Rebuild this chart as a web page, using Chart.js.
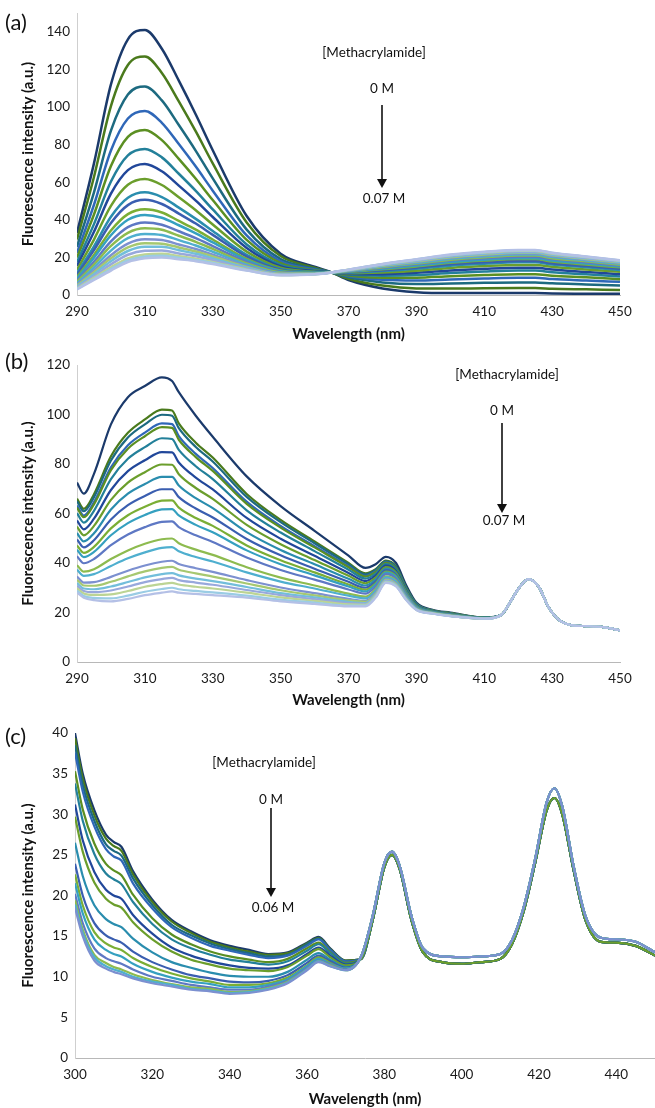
<!DOCTYPE html>
<html>
<head>
<meta charset="utf-8">
<script src="https://cdn.jsdelivr.net/npm/chart.js@4.4.0/dist/chart.umd.min.js"></script>
<style>
html, body { margin: 0; padding: 0; background: #fff; }
#wrap { position: relative; width: 655px; height: 1108px; overflow: hidden; }
canvas { position: absolute; left: 0; }
</style>
</head>
<body>
<div id="wrap">
<canvas id="chartA" width="655" height="345" style="top:0px"></canvas>
<canvas id="chartB" width="655" height="367" style="top:345px"></canvas>
<canvas id="chartC" width="655" height="396" style="top:712px"></canvas>
</div>
<script>
// wavelength grids (nm)
var wavelengthA = [290, 295, 300, 305, 310, 315, 320, 325, 330, 340, 350, 360, 365, 370, 380, 390, 400, 410, 420, 425, 430, 440, 450];
var wavelengthB = [290, 292, 295, 300, 305, 310, 315, 318, 320, 325, 330, 340, 350, 360, 370, 375, 378, 381, 384, 387, 390, 395, 400, 410, 415, 418, 420, 423, 426, 429, 432, 436, 440, 445, 450];
var wavelengthC = [300, 302, 305, 308, 310, 312, 315, 320, 325, 330, 335, 340, 345, 350, 355, 360, 363, 366, 370, 374, 377, 380, 382, 384, 387, 390, 395, 400, 405, 410, 413, 416, 419, 422, 424, 426, 429, 432, 436, 440, 445, 450];

// (a) fluorescence intensity, 0 M first -> 0.07 M last
var intensityA = [
	[33, 70, 112, 136, 141, 131, 114, 96, 77, 42, 22, 15, 12, 8, 3.5, 1.5, 1, 1, 1, 1, 0.8, 0.7, 0.6],
	[29.5, 62.8, 100.5, 122.3, 126.9, 118.1, 103, 87, 70, 38.6, 20.7, 14.5, 12, 8.6, 5, 3.5, 3.4, 3.6, 3.7, 3.7, 3.3, 3, 2.7],
	[25.6, 54.6, 87.4, 106.6, 110.9, 103.5, 90.4, 76.7, 62, 34.8, 19.1, 14, 12, 9.4, 6.7, 5.8, 6.1, 6.5, 6.7, 6.7, 6.2, 5.6, 5],
	[22.4, 48, 76.9, 93.9, 97.9, 91.6, 80.3, 68.3, 55.5, 31.7, 17.9, 13.6, 12, 10, 8.1, 7.7, 8.3, 8.8, 9.2, 9.2, 8.5, 7.7, 7],
	[19.9, 42.8, 68.6, 84.1, 87.8, 82.4, 72.4, 61.8, 50.5, 29.3, 17, 13.2, 12, 10.4, 9.2, 9.2, 10, 10.6, 11.1, 11.1, 10.3, 9.4, 8.4],
	[17.4, 37.7, 60.4, 74.3, 77.7, 73.2, 64.5, 55.4, 45.5, 26.9, 16, 12.9, 12, 10.9, 10.3, 10.6, 11.7, 12.5, 13, 13, 12.1, 11, 9.9],
	[15.4, 33.6, 53.9, 66.4, 69.7, 65.8, 58.2, 50.2, 41.5, 25, 15.2, 12.7, 12, 11.2, 11.1, 11.8, 13, 13.9, 14.5, 14.5, 13.5, 12.3, 11.1],
	[13.4, 29.5, 47.4, 58.6, 61.7, 58.5, 52, 45.1, 37.5, 23.1, 14.5, 12.4, 12, 11.6, 12, 12.9, 14.4, 15.4, 16, 16, 15, 13.6, 12.3],
	[11.7, 25.9, 41.6, 51.7, 54.6, 52.1, 46.5, 40.5, 34, 21.4, 13.8, 12.2, 12, 11.9, 12.7, 13.9, 15.6, 16.6, 17.4, 17.4, 16.2, 14.8, 13.3],
	[10.7, 23.9, 38.3, 47.8, 50.6, 48.4, 43.3, 38, 32, 20.4, 13.4, 12, 12, 12.1, 13.2, 14.5, 16.3, 17.4, 18.1, 18.1, 16.9, 15.4, 13.9],
	[9.5, 21.3, 34.3, 43, 45.6, 43.9, 39.4, 34.8, 29.5, 19.2, 13, 11.9, 12, 12.3, 13.7, 15.2, 17.1, 18.3, 19.1, 19.1, 17.8, 16.2, 14.7],
	[8.7, 19.8, 31.8, 40, 42.6, 41.1, 37.1, 32.8, 28, 18.5, 12.7, 11.8, 12, 12.5, 14, 15.7, 17.6, 18.8, 19.6, 19.6, 18.4, 16.7, 15.1],
	[7.7, 17.7, 28.5, 36.1, 38.6, 37.4, 33.9, 30.2, 26, 17.6, 12.3, 11.6, 12, 12.6, 14.5, 16.3, 18.3, 19.5, 20.4, 20.4, 19.1, 17.4, 15.7],
	[7, 16.2, 26.1, 33.1, 35.5, 34.7, 31.5, 28.3, 24.5, 16.8, 12, 11.5, 12, 12.8, 14.8, 16.7, 18.8, 20.1, 21, 21, 19.6, 17.9, 16.1],
	[6.2, 14.6, 23.6, 30.2, 32.5, 31.9, 29.2, 26.3, 23, 16.1, 11.7, 11.4, 12, 12.9, 15.1, 17.1, 19.3, 20.6, 21.5, 21.5, 20.2, 18.4, 16.6],
	[5.5, 13.1, 21.2, 27.3, 29.6, 29.2, 26.9, 24.5, 21.5, 15.4, 11.5, 11.3, 12, 13, 15.4, 17.5, 19.8, 21.2, 22.1, 22.1, 20.7, 18.9, 17],
	[5, 12.1, 19.5, 25.3, 27.5, 27.3, 25.3, 23.1, 20.5, 14.9, 11.3, 11.3, 12, 13.1, 15.6, 17.8, 20.1, 21.5, 22.5, 22.5, 21.1, 19.2, 17.3],
	[4.5, 11.1, 18, 23.4, 25.6, 25.6, 23.8, 21.9, 19.5, 14.5, 11.1, 11.2, 12, 13.2, 15.8, 18.1, 20.5, 21.9, 22.8, 22.8, 21.4, 19.5, 17.6],
	[4, 10, 16.3, 21.4, 23.5, 23.7, 22.1, 20.6, 18.5, 14, 10.9, 11.1, 12, 13.3, 16.1, 18.4, 20.8, 22.3, 23.2, 23.2, 21.8, 19.8, 17.9],
	[3.5, 9.1, 14.7, 19.5, 21.6, 21.9, 20.6, 19.3, 17.5, 13.5, 10.7, 11.1, 12, 13.4, 16.3, 18.7, 21.2, 22.6, 23.6, 23.6, 22.1, 20.2, 18.2],
	[3.2, 8.5, 13.8, 18.4, 20.5, 20.9, 19.8, 18.6, 17, 13.2, 10.6, 11, 12, 13.5, 16.4, 18.9, 21.3, 22.8, 23.8, 23.8, 22.3, 20.3, 18.4],
	[3, 8, 13, 17.5, 19.5, 20, 19, 18, 16.5, 13, 10.5, 11, 12, 13.5, 16.5, 19, 21.5, 23, 24, 24, 22.5, 20.5, 18.5],
];

// (b) fluorescence intensity, 0 M first -> 0.07 M last
var intensityB = [
	[72.5, 68, 76, 96, 107, 111.5, 115, 113.5, 109, 99.5, 91, 75, 63, 53, 43, 38, 39.5, 42.5, 40, 31, 24, 21, 20, 18, 19, 25, 29.5, 33.5, 30.5, 22, 17, 14.8, 14.5, 14.1, 12.8],
	[66, 61.9, 67.8, 83.1, 92.6, 98, 102, 101.6, 96.4, 88.6, 82.6, 67.9, 57.4, 48.7, 40, 35.8, 37.5, 41, 38.6, 30.1, 23.6, 20.8, 19.8, 17.9, 19, 25, 29.5, 33.5, 30.5, 22, 17, 14.8, 14.5, 14.1, 12.8],
	[65, 60.9, 66.6, 81.4, 90.7, 96, 99.9, 99.5, 94.5, 86.9, 81, 66.7, 56.5, 48, 39.5, 35.4, 37.2, 40.7, 38.4, 30, 23.5, 20.7, 19.7, 17.9, 19, 25, 29.5, 33.5, 30.5, 22, 17, 14.8, 14.5, 14.1, 12.8],
	[63.2, 59.2, 64.6, 78.7, 87.6, 92.7, 96.4, 96.1, 91.3, 84.1, 78.4, 64.8, 55, 46.8, 38.7, 34.8, 36.7, 40.3, 38, 29.7, 23.4, 20.7, 19.7, 17.9, 19, 25, 29.5, 33.5, 30.5, 22, 17, 14.8, 14.5, 14.1, 12.8],
	[62.4, 58.5, 63.7, 77.5, 86.2, 91.2, 94.9, 94.6, 89.8, 82.8, 77.2, 63.9, 54.3, 46.3, 38.3, 34.5, 36.4, 40.1, 37.8, 29.6, 23.3, 20.7, 19.7, 17.9, 19, 25, 29.5, 33.5, 30.5, 22, 17, 14.8, 14.5, 14.1, 12.8],
	[60.1, 56.3, 61.1, 73.9, 82.1, 86.8, 90.4, 90.1, 85.7, 79.1, 73.9, 61.3, 52.3, 44.8, 37.3, 33.7, 35.7, 39.6, 37.3, 29.3, 23.2, 20.6, 19.6, 17.9, 19, 25, 29.5, 33.5, 30.5, 22, 17, 14.8, 14.5, 14.1, 12.8],
	[57.2, 53.6, 57.9, 69.5, 77.1, 81.5, 84.8, 84.7, 80.6, 74.5, 69.7, 58.2, 49.8, 42.9, 36, 32.7, 34.9, 38.9, 36.7, 28.9, 23, 20.5, 19.5, 17.8, 19, 25, 29.5, 33.5, 30.5, 22, 17, 14.8, 14.5, 14.1, 12.8],
	[54.7, 51.2, 55, 65.5, 72.5, 76.7, 79.8, 79.7, 75.9, 70.3, 65.9, 55.4, 47.6, 41.2, 34.8, 31.8, 34.1, 38.3, 36.2, 28.6, 22.8, 20.4, 19.4, 17.8, 19, 25, 29.5, 33.5, 30.5, 22, 17, 14.8, 14.5, 14.1, 12.8],
	[52.1, 48.7, 52, 61.6, 68, 71.9, 74.8, 74.8, 71.3, 66.2, 62.2, 52.5, 45.3, 39.5, 33.6, 30.9, 33.3, 37.7, 35.6, 28.2, 22.6, 20.3, 19.3, 17.8, 19, 25, 29.5, 33.5, 30.5, 22, 17, 14.8, 14.5, 14.1, 12.8],
	[49.5, 46.3, 49.2, 57.6, 63.4, 67.1, 69.8, 69.8, 66.6, 62, 58.4, 49.7, 43.1, 37.7, 32.4, 30, 32.5, 37.1, 35.1, 27.9, 22.4, 20.2, 19.2, 17.7, 19, 25, 29.5, 33.5, 30.5, 22, 17, 14.8, 14.5, 14.1, 12.8],
	[47.1, 44.1, 46.5, 54, 59.3, 62.7, 65.2, 65.3, 62.4, 58.2, 55, 47.1, 41.1, 36.2, 31.3, 29.2, 31.8, 36.5, 34.6, 27.6, 22.3, 20.1, 19.1, 17.7, 19, 25, 29.5, 33.5, 30.5, 22, 17, 14.8, 14.5, 14.1, 12.8],
	[45.4, 42.4, 44.5, 51.2, 56.1, 59.4, 61.7, 61.8, 59.2, 55.4, 52.4, 45.1, 39.5, 35, 30.5, 28.5, 31.3, 36.1, 34.2, 27.3, 22.2, 20.1, 19.1, 17.7, 19, 25, 29.5, 33.5, 30.5, 22, 17, 14.8, 14.5, 14.1, 12.8],
	[42.7, 39.9, 41.6, 47.2, 51.5, 54.5, 56.6, 56.8, 54.5, 51.2, 48.5, 42.2, 37.2, 33.3, 29.3, 27.6, 30.5, 35.5, 33.6, 27, 22, 20, 19, 17.7, 19, 25, 29.5, 33.5, 30.5, 22, 17, 14.8, 14.5, 14.1, 12.8],
	[39.1, 36.5, 37.5, 41.6, 45.1, 47.8, 49.6, 49.9, 48, 45.4, 43.3, 38.3, 34.1, 30.9, 27.6, 26.4, 29.4, 34.6, 32.9, 26.5, 21.8, 19.9, 18.9, 17.6, 19, 25, 29.5, 33.5, 30.5, 22, 17, 14.8, 14.5, 14.1, 12.8],
	[37.3, 34.8, 35.5, 38.8, 41.9, 44.3, 46.1, 46.4, 44.7, 42.4, 40.6, 36.2, 32.5, 29.7, 26.8, 25.7, 28.8, 34.2, 32.5, 26.3, 21.6, 19.8, 18.8, 17.6, 19, 25, 29.5, 33.5, 30.5, 22, 17, 14.8, 14.5, 14.1, 12.8],
	[34.5, 32.1, 32.3, 34.4, 36.9, 39, 40.5, 40.9, 39.6, 37.9, 36.4, 33.1, 30.1, 27.8, 25.5, 24.7, 28, 33.5, 31.9, 25.9, 21.4, 19.7, 18.7, 17.6, 19, 25, 29.5, 33.5, 30.5, 22, 17, 14.8, 14.5, 14.1, 12.8],
	[33.2, 30.9, 30.8, 32.4, 34.6, 36.6, 38, 38.4, 37.3, 35.8, 34.5, 31.7, 29, 26.9, 24.9, 24.3, 27.6, 33.2, 31.6, 25.7, 21.3, 19.7, 18.7, 17.6, 19, 25, 29.5, 33.5, 30.5, 22, 17, 14.8, 14.5, 14.1, 12.8],
	[31.9, 29.7, 29.4, 30.5, 32.3, 34.2, 35.5, 35.9, 35, 33.7, 32.7, 30.3, 27.8, 26.1, 24.3, 23.8, 27.2, 32.9, 31.3, 25.5, 21.3, 19.6, 18.6, 17.5, 19, 25, 29.5, 33.5, 30.5, 22, 17, 14.8, 14.5, 14.1, 12.8],
	[30.8, 28.7, 28.2, 28.9, 30.5, 32.3, 33.5, 34, 33.1, 32.1, 31.2, 29.1, 27, 25.4, 23.8, 23.5, 26.9, 32.7, 31.1, 25.4, 21.2, 19.6, 18.6, 17.5, 19, 25, 29.5, 33.5, 30.5, 22, 17, 14.8, 14.5, 14.1, 12.8],
	[29.8, 27.7, 27.1, 27.3, 28.7, 30.4, 31.5, 32, 31.3, 30.4, 29.7, 28, 26.1, 24.7, 23.3, 23.1, 26.6, 32.4, 30.9, 25.2, 21.1, 19.6, 18.6, 17.5, 19, 25, 29.5, 33.5, 30.5, 22, 17, 14.8, 14.5, 14.1, 12.8],
	[28.8, 26.7, 25.9, 25.7, 26.8, 28.4, 29.5, 30, 29.4, 28.7, 28.1, 26.8, 25.2, 24, 22.8, 22.8, 26.2, 32.2, 30.7, 25.1, 21.1, 19.5, 18.5, 17.5, 19, 25, 29.5, 33.5, 30.5, 22, 17, 14.8, 14.5, 14.1, 12.8],
	[28, 26, 25, 24.5, 25.5, 27, 28, 28.5, 28, 27.5, 27, 26, 24.5, 23.5, 22.5, 22.5, 26, 32, 30.5, 25, 21, 19.5, 18.5, 17.5, 19, 25, 29.5, 33.5, 30.5, 22, 17, 14.8, 14.5, 14.1, 12.8],
];

// (c) fluorescence intensity, 0 M first -> 0.06 M last
var intensityC = [
	[40, 35, 30.5, 27.5, 26.6, 26, 23, 19.5, 17, 15.6, 14.5, 13.8, 13.3, 12.8, 13, 14.2, 14.9, 13.5, 12, 12.2, 17, 23.5, 25, 23.2, 17, 13, 11.8, 11.6, 11.8, 12.2, 14, 18, 24, 30.5, 32, 30, 23, 17, 14.3, 14.2, 13.8, 12.6],
	[39.4, 34.4, 29.9, 27, 26.1, 25.5, 22.6, 19.2, 16.8, 15.4, 14.3, 13.6, 13.1, 12.7, 12.9, 14.1, 14.8, 13.4, 12, 12.2, 17, 23.5, 25, 23.2, 17, 13, 11.8, 11.6, 11.8, 12.2, 14, 18, 24, 30.5, 32, 30, 23, 17, 14.3, 14.2, 13.8, 12.6],
	[38.5, 33.6, 29.2, 26.3, 25.5, 24.9, 22.1, 18.8, 16.4, 15.1, 14.1, 13.4, 12.9, 12.5, 12.7, 14, 14.7, 13.3, 11.9, 12.2, 17, 23.5, 25, 23.2, 17, 13, 11.8, 11.6, 11.8, 12.2, 14, 18, 24, 30.5, 32, 30, 23, 17, 14.3, 14.2, 13.8, 12.6],
	[37.6, 32.8, 28.5, 25.7, 24.8, 24.3, 21.5, 18.4, 16.1, 14.8, 13.8, 13.2, 12.7, 12.3, 12.6, 13.8, 14.6, 13.3, 11.9, 12.2, 17, 23.5, 25, 23.2, 17, 13, 11.8, 11.6, 11.8, 12.2, 14, 18, 24, 30.5, 32, 30, 23, 17, 14.3, 14.2, 13.8, 12.6],
	[35.3, 30.6, 26.4, 23.9, 23.1, 22.5, 20.1, 17.2, 15.2, 14, 13.1, 12.5, 12.1, 11.8, 12.2, 13.5, 14.2, 13, 11.7, 12.2, 17, 23.5, 25, 23.2, 17, 13, 11.8, 11.6, 11.8, 12.2, 14, 18, 24, 30.5, 32, 30, 23, 17, 14.3, 14.2, 13.8, 12.6],
	[33.8, 29.2, 25.1, 22.7, 22, 21.4, 19.2, 16.5, 14.6, 13.5, 12.7, 12.1, 11.8, 11.5, 11.9, 13.2, 14, 12.9, 11.6, 12.2, 17, 23.5, 25, 23.2, 17, 13, 11.8, 11.6, 11.8, 12.2, 14, 18, 24, 30.5, 32, 30, 23, 17, 14.3, 14.2, 13.8, 12.6],
	[31.2, 26.8, 22.9, 20.7, 20, 19.6, 17.6, 15.3, 13.6, 12.6, 11.9, 11.4, 11.1, 11, 11.4, 12.8, 13.6, 12.6, 11.5, 12.2, 17, 23.5, 25, 23.2, 17, 13, 11.8, 11.6, 11.8, 12.2, 14, 18, 24, 30.5, 32, 30, 23, 17, 14.3, 14.2, 13.8, 12.6],
	[29.7, 25.4, 21.6, 19.6, 18.9, 18.5, 16.7, 14.6, 13.1, 12.1, 11.5, 11, 10.8, 10.7, 11.2, 12.6, 13.4, 12.4, 11.4, 12.2, 17, 23.5, 25, 23.2, 17, 13, 11.8, 11.6, 11.8, 12.2, 14, 18, 24, 30.5, 32, 30, 23, 17, 14.3, 14.2, 13.8, 12.6],
	[26.5, 22.4, 18.8, 17.1, 16.5, 16.1, 14.7, 13, 11.8, 11.1, 10.5, 10.1, 10, 10, 10.6, 12.1, 12.9, 12.1, 11.2, 12.5, 17.5, 24, 25.4, 23.6, 17.5, 13.5, 12.5, 12.4, 12.5, 12.8, 14.5, 18.5, 24.5, 31.5, 33.2, 31, 23.5, 17.5, 14.8, 14.6, 14.3, 13],
	[23.9, 20, 16.6, 15.1, 14.6, 14.2, 13.1, 11.8, 10.9, 10.2, 9.8, 9.4, 9.3, 9.5, 10.2, 11.7, 12.6, 11.9, 11.1, 12.5, 17.5, 24, 25.4, 23.6, 17.5, 13.5, 12.5, 12.4, 12.5, 12.8, 14.5, 18.5, 24.5, 31.5, 33.2, 31, 23.5, 17.5, 14.8, 14.6, 14.3, 13],
	[22.6, 18.8, 15.5, 14.1, 13.6, 13.3, 12.3, 11.2, 10.4, 9.8, 9.4, 9, 9, 9.2, 9.9, 11.4, 12.4, 11.7, 11, 12.5, 17.5, 24, 25.4, 23.6, 17.5, 13.5, 12.5, 12.4, 12.5, 12.8, 14.5, 18.5, 24.5, 31.5, 33.2, 31, 23.5, 17.5, 14.8, 14.6, 14.3, 13],
	[21.5, 17.8, 14.6, 13.3, 12.8, 12.5, 11.6, 10.6, 9.9, 9.4, 9.1, 8.7, 8.7, 9, 9.7, 11.3, 12.2, 11.6, 11, 12.5, 17.5, 24, 25.4, 23.6, 17.5, 13.5, 12.5, 12.4, 12.5, 12.8, 14.5, 18.5, 24.5, 31.5, 33.2, 31, 23.5, 17.5, 14.8, 14.6, 14.3, 13],
	[20.2, 16.6, 13.5, 12.3, 11.9, 11.6, 10.9, 10, 9.5, 9, 8.7, 8.4, 8.4, 8.8, 9.5, 11.1, 12, 11.5, 10.9, 12.5, 17.5, 24, 25.4, 23.6, 17.5, 13.5, 12.5, 12.4, 12.5, 12.8, 14.5, 18.5, 24.5, 31.5, 33.2, 31, 23.5, 17.5, 14.8, 14.6, 14.3, 13],
	[19.4, 15.8, 12.7, 11.7, 11.2, 10.9, 10.3, 9.6, 9.1, 8.7, 8.5, 8.1, 8.2, 8.6, 9.4, 10.9, 11.9, 11.4, 10.8, 12.5, 17.5, 24, 25.4, 23.6, 17.5, 13.5, 12.5, 12.4, 12.5, 12.8, 14.5, 18.5, 24.5, 31.5, 33.2, 31, 23.5, 17.5, 14.8, 14.6, 14.3, 13],
	[18.9, 15.4, 12.4, 11.3, 10.9, 10.6, 10, 9.4, 9, 8.5, 8.3, 8, 8.1, 8.5, 9.3, 10.9, 11.9, 11.3, 10.8, 12.5, 17.5, 24, 25.4, 23.6, 17.5, 13.5, 12.5, 12.4, 12.5, 12.8, 14.5, 18.5, 24.5, 31.5, 33.2, 31, 23.5, 17.5, 14.8, 14.6, 14.3, 13],
	[18.5, 15, 12, 11, 10.6, 10.3, 9.8, 9.2, 8.8, 8.4, 8.2, 7.9, 8, 8.4, 9.2, 10.8, 11.8, 11.3, 10.8, 12.5, 17.5, 24, 25.4, 23.6, 17.5, 13.5, 12.5, 12.4, 12.5, 12.8, 14.5, 18.5, 24.5, 31.5, 33.2, 31, 23.5, 17.5, 14.8, 14.6, 14.3, 13],
];

// tick labels
var xTicksAB = [290, 310, 330, 350, 370, 390, 410, 430, 450];
var xTicksC = [300, 320, 340, 360, 380, 400, 420, 440];
var yTicksA = [0, 20, 40, 60, 80, 100, 120, 140];
var yTicksB = [0, 20, 40, 60, 80, 100, 120];
var yTicksC = [0, 5, 10, 15, 20, 25, 30, 35, 40];

// concentration range labels
var rangeA = ['0 M', '0.07 M'];
var rangeB = ['0 M', '0.07 M'];
var rangeC = ['0 M', '0.06 M'];

var lineColors = ['#1b3a6b', '#4a7a1c', '#1d6a80', '#2f67b8', '#5b8f22', '#23809a', '#21479a', '#6b9e2c', '#2a8dae', '#3a5eb0', '#7aae35', '#35a0c0',
	'#5e78c4', '#8dbb4f', '#4fafcf', '#7c90d0', '#a6c870', '#72bedb', '#98a8dc', '#bcd494', '#9acce4', '#b4c0e6'];

var FONT = 'Lato, "Open Sans", sans-serif';

var notePlugin = {
	id: 'notes',
	afterDraw: function (chart, args, n) {
		var ctx = chart.ctx;
		ctx.save();
		ctx.fillStyle = '#111';
		ctx.strokeStyle = '#111';
		ctx.textBaseline = 'middle';
		ctx.textAlign = 'left';
		ctx.font = '22px ' + FONT;
		ctx.fillText(n.panel, 5, n.panelY);
		ctx.textAlign = 'center';
		ctx.font = '13.5px ' + FONT;
		ctx.fillText('[Methacrylamide]', n.titleX, n.titleY);
		ctx.fillText(n.range[0], n.arrowX, n.fromY);
		ctx.fillText(n.range[1], n.arrowX + 2, n.toY);
		// arrow
		ctx.lineWidth = 1.6;
		ctx.beginPath();
		ctx.moveTo(n.arrowX, n.arrowTop);
		ctx.lineTo(n.arrowX, n.arrowTip - 6);
		ctx.stroke();
		ctx.beginPath();
		ctx.moveTo(n.arrowX - 5, n.arrowTip - 9);
		ctx.lineTo(n.arrowX + 5, n.arrowTip - 9);
		ctx.lineTo(n.arrowX, n.arrowTip);
		ctx.closePath();
		ctx.fill();
		ctx.restore();
	},
};

function makeDatasets(xs, rows, width) {
	return rows.map(function (row, i) {
		return {
			data: row.map(function (y, j) { return { x: xs[j], y: y }; }),
			borderColor: lineColors[i],
			borderWidth: width,
			pointRadius: 0,
			cubicInterpolationMode: 'monotone',
			order: rows.length - i,
		};
	});
}

function makeChart(id, xs, rows, p) {
	return new Chart(document.getElementById(id), {
		type: 'line',
		data: { datasets: makeDatasets(xs, rows, p.lineWidth) },
		plugins: [notePlugin],
		options: {
			responsive: false,
			animation: false,
			devicePixelRatio: 1,
			layout: { padding: { top: p.padTop, right: p.padRight, bottom: 0, left: 0 } },
			plugins: {
				legend: { display: false },
				tooltip: { enabled: false },
				notes: p.notes,
			},
			scales: {
				x: {
					type: 'linear',
					min: p.xMin,
					max: p.xMax,
					afterBuildTicks: function (s) { s.ticks = p.xTicks.map(function (v) { return { value: v }; }); },
					afterFit: function (s) { s.height = 50; s.paddingLeft = 0; s.paddingRight = 0; },
					grid: { display: false, drawTicks: false },
					border: { display: true, color: '#b8b8b8', width: 1 },
					ticks: { padding: 9, color: '#1a1a1a', autoSkip: false, maxRotation: 0, font: { family: FONT, size: 13.5 } },
					title: { display: true, text: 'Wavelength (nm)', color: '#111', font: { family: FONT, size: 15, weight: 'bold' }, padding: { top: 0, bottom: p.xTitlePad } },
				},
				y: {
					min: 0,
					max: p.yMax,
					afterBuildTicks: function (s) { s.ticks = p.yTicks.map(function (v) { return { value: v }; }); },
					afterFit: function (s) { s.width = p.yWidth; s.paddingTop = 0; s.paddingBottom = 0; },
					grid: { display: false, drawTicks: false },
					border: { display: true, color: '#cfcfcf', width: 1 },
					ticks: { padding: 7, color: '#1a1a1a', font: { family: FONT, size: 13.5 } },
					title: { display: true, text: 'Fluorescence intensity (a.u.)', color: '#111', font: { family: FONT, size: 15, weight: 'bold' }, padding: { top: 19, bottom: 0 } },
				},
			},
		},
	});
}

makeChart('chartA', wavelengthA, intensityA, {
	lineWidth: 2.5, padTop: 13, padRight: 35, xMin: 290, xMax: 450, yMax: 150, yWidth: 77, xTitlePad: 2,
	xTicks: xTicksAB, yTicks: yTicksA,
	notes: { panel: '(a)', panelY: 23, titleX: 374, titleY: 53, range: rangeA, arrowX: 382, fromY: 89, arrowTop: 105, arrowTip: 188, toY: 199 },
});

makeChart('chartB', wavelengthB, intensityB, {
	lineWidth: 2.2, padTop: 20, padRight: 35, xMin: 290, xMax: 450, yMax: 120, yWidth: 77, xTitlePad: 3,
	xTicks: xTicksAB, yTicks: yTicksB,
	notes: { panel: '(b)', panelY: 17, titleX: 507, titleY: 30, range: rangeB, arrowX: 502, fromY: 66, arrowTop: 78, arrowTip: 168, toY: 176 },
});

makeChart('chartC', wavelengthC, intensityC, {
	lineWidth: 2.2, padTop: 21, padRight: 0, xMin: 300, xMax: 450, yMax: 40, yWidth: 75, xTitlePad: 0,
	xTicks: xTicksC, yTicks: yTicksC,
	notes: { panel: '(c)', panelY: 25, titleX: 264, titleY: 51, range: rangeC, arrowX: 271, fromY: 88, arrowTop: 96, arrowTip: 185, toY: 196 },
});
</script>
</body>
</html>
